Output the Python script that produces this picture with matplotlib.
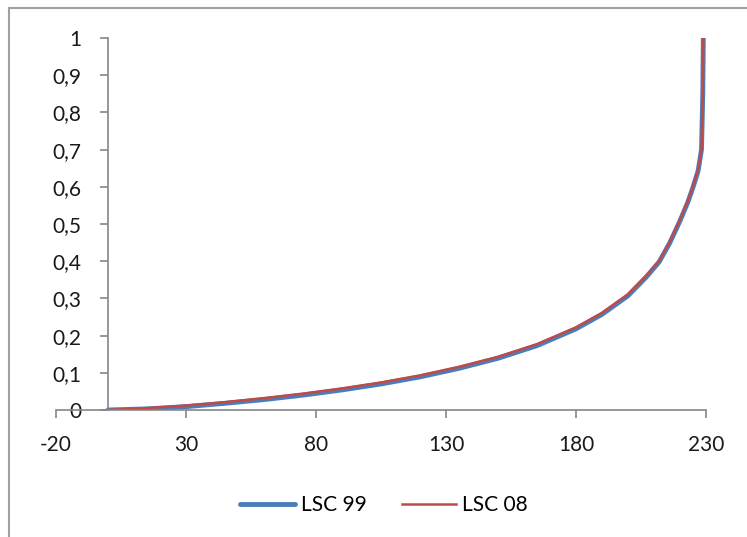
import matplotlib
matplotlib.use("Agg")
import matplotlib.pyplot as plt
from matplotlib.patches import Rectangle
from matplotlib.ticker import FuncFormatter

# values
x_vals = [0, 15, 30, 45, 60, 75, 90, 105, 120, 135, 150, 165, 180, 190,
          200, 207, 212, 216, 220, 223, 225, 227, 228.3, 228.8, 229]
lsc99 = [0.0, 0.003, 0.009, 0.018, 0.028, 0.040, 0.054, 0.070, 0.089, 0.112,
         0.139, 0.173, 0.218, 0.257, 0.307, 0.357, 0.398, 0.448, 0.508,
         0.558, 0.598, 0.643, 0.70, 0.85, 1.0]
lsc08 = [0.0, 0.005, 0.012, 0.021, 0.032, 0.044, 0.058, 0.074, 0.093, 0.116,
         0.143, 0.177, 0.222, 0.261, 0.311, 0.361, 0.401, 0.451, 0.511,
         0.561, 0.601, 0.646, 0.70, 0.85, 1.0]
x_ticks = [-20, 30, 80, 130, 180, 230]
y_ticks = [0, 0.1, 0.2, 0.3, 0.4, 0.5, 0.6, 0.7, 0.8, 0.9, 1.0]

plt.rcParams['font.family'] = ['Lato', 'DejaVu Sans']
plt.rcParams['axes.unicode_minus'] = False
grey = '#868686'

fig = plt.figure(figsize=(7.47, 5.37), dpi=100)
fig.patches.append(Rectangle((0.012, -0.02), 1.1, 1.005, transform=fig.transFigure,
                             fill=False, edgecolor='#a0a0a0', linewidth=1.5))
ax = fig.add_axes([0.075, 0.2365, 0.87, 0.6927])

ax.plot(x_vals, lsc99, color='#4a7ebb', linewidth=3.5, label='LSC 99',
        solid_capstyle='round')
ax.plot(x_vals, lsc08, color='#be4b48', linewidth=1.8, label='LSC 08')

ax.set_xlim(-20, 230)
ax.set_ylim(0, 1)
ax.set_xticks(x_ticks)
ax.set_yticks(y_ticks)
ax.yaxis.set_major_formatter(FuncFormatter(
    lambda v, p: ('%g' % round(v, 1)).replace('.', ',')))

for s in ['top', 'right']:
    ax.spines[s].set_visible(False)
ax.spines['left'].set_position(('data', 0))
for s in ['left', 'bottom']:
    ax.spines[s].set_color(grey)
    ax.spines[s].set_linewidth(1.2)
ax.tick_params(axis='both', colors=grey, labelcolor='#1a1a1a', labelsize=15,
               length=6, width=1.2, direction='out')
ax.tick_params(axis='y', pad=13)
ax.tick_params(axis='x', pad=12)

ax.legend(loc='center', bbox_to_anchor=(0.505, -0.255), ncol=2, frameon=False,
          fontsize=15, handlelength=2.6, handletextpad=0.3, columnspacing=1.7)

fig.savefig('out.png', dpi=100)
